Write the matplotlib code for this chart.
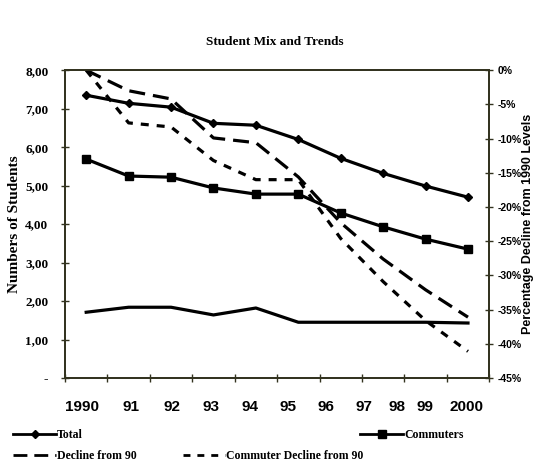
import matplotlib
matplotlib.use('Agg')
import matplotlib.pyplot as plt
from matplotlib.lines import Line2D

# data
years = ['1990', '91', '92', '93', '94', '95', '96', '97', '98', '99', '2000']
total = [7.35, 7.14, 7.04, 6.62, 6.57, 6.20, 5.71, 5.32, 4.99, 4.70]
commuters = [5.69, 5.25, 5.22, 4.94, 4.78, 4.78, 4.29, 3.93, 3.61, 3.35]
residents = [1.71, 1.84, 1.84, 1.64, 1.82, 1.45, 1.45, 1.45, 1.45, 1.43]
decline = [0.0, -3.0, -4.2, -9.9, -10.6, -15.6, -22.3, -27.6, -32.1, -36.1]
commuter_decline = [0.0, -7.7, -8.3, -13.2, -16.0, -16.0, -24.6, -30.9, -36.6, -41.1]
left_ticks = [0, 1, 2, 3, 4, 5, 6, 7, 8]
left_labels = ['-', '1,00', '2,00', '3,00', '4,00', '5,00', '6,00', '7,00', '8,00']
right_ticks = [0, -5, -10, -15, -20, -25, -30, -35, -40, -45]

# where the year labels sit along the bottom (category units), they don't line up with the points
year_pos = [-0.10, 1.06, 2.02, 2.94, 3.86, 4.76, 5.66, 6.55, 7.33, 7.99, 8.96]

axcol = '#33331f'
serif = ['Liberation Serif', 'DejaVu Serif']
sans = ['Liberation Sans', 'DejaVu Sans']

fig = plt.figure(figsize=(5.37, 4.65), dpi=100)
ax = fig.add_axes([0.121, 0.187, 0.790, 0.662])
ax2 = ax.twinx()

x = list(range(len(total)))
ax.plot(x, total, color='black', lw=2.3, marker='D', ms=4)
ax.plot(x, commuters, color='black', lw=2.3, marker='s', ms=6)
ax.plot(x, residents, color='black', lw=2.3)
ax2.plot(x, decline, color='black', lw=2.3, dashes=(5, 2.5))
ax2.plot(x, commuter_decline, color='black', lw=2.3, dashes=(2.5, 2.5))

ax.set_xlim(-0.5, 9.5)
ax.set_ylim(0, 8)
ax2.set_ylim(-45, 0)

ax.set_xticks([i - 0.5 for i in range(11)])
ax.set_xticklabels([])
ax.tick_params(axis='x', direction='inout', length=6, color=axcol, width=1)
for xp, lab in zip(year_pos, years):
    ax.text(xp, -0.095, lab, transform=ax.get_xaxis_transform(), ha='center',
            va='center', fontsize=11, fontweight='bold', family=sans)

ax.set_yticks(left_ticks)
ax.set_yticklabels(left_labels, fontsize=9.5, fontweight='bold', family=serif)
ax.tick_params(axis='y', direction='inout', length=6, color=axcol, width=1, pad=9)

ax2.set_yticks(right_ticks)
ax2.set_yticklabels(['%d%%' % t for t in right_ticks], fontsize=7.5,
                    fontweight='bold', family=sans)
ax2.tick_params(axis='y', direction='inout', length=6, color=axcol, width=1, pad=3)

for a in (ax, ax2):
    for s in a.spines.values():
        s.set_color(axcol)
        s.set_linewidth(1.3)

ax.set_ylabel('Numbers of Students', fontsize=11, fontweight='bold', family=serif)
ax.yaxis.set_label_coords(-0.104, 0.5)
ax2.set_ylabel('Percentage Decline from 1990 Levels', fontsize=9, fontweight='bold',
               family=sans)
ax2.yaxis.set_label_coords(1.078, 0.5)
fig.text(0.512, 0.91, 'Student Mix and Trends', ha='center', va='center',
         fontsize=9.5, fontweight='bold', family=serif)

# legend entries placed one by one, like the original
entries = [
    (Line2D([], [], color='black', lw=2, marker='D', ms=4), 'Total', 0.025, 0.0645),
    (Line2D([], [], color='black', lw=2, marker='s', ms=6), 'Commuters', 0.671, 0.0645),
    (Line2D([], [], color='black', lw=2, dashes=(5, 2.5)), 'Decline from 90', 0.025, 0.019),
    (Line2D([], [], color='black', lw=2, dashes=(2.5, 2.5)), 'Commuter Decline from 90', 0.34, 0.019),
]
for h, lab, lx, ly in entries:
    fig.legend([h], [lab], loc='center left', bbox_to_anchor=(lx, ly),
               frameon=False, handlelength=3.6, handletextpad=0.1,
               borderpad=0, borderaxespad=0,
               prop={'family': serif, 'weight': 'bold', 'size': 8.5})

fig.savefig('out.png', dpi=100)
